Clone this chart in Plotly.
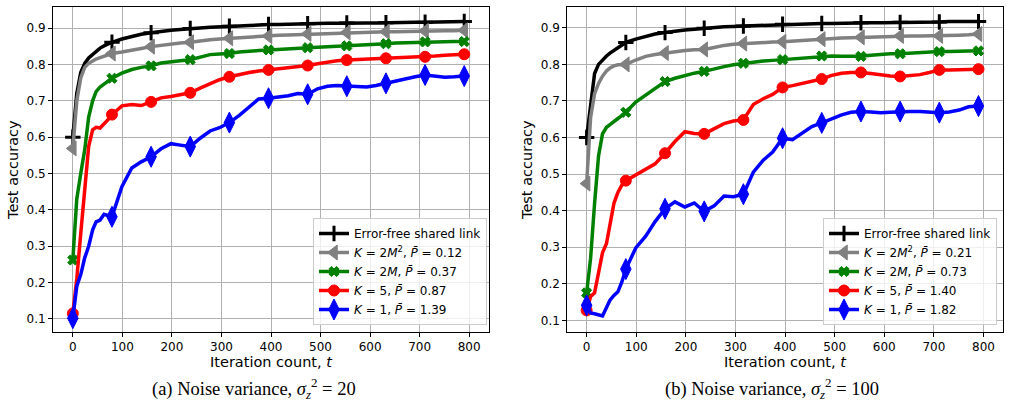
import plotly.graph_objects as go

# Iteration counts at which the curves are sampled
T = [0, 8, 16, 24, 32, 40, 47, 55, 63, 71, 79, 99, 119, 138, 158, 178, 198, 217, 237, 257,
     277, 296, 316, 336, 356, 375, 395, 415, 435, 454, 474, 494, 514, 533, 553, 573, 593,
     612, 632, 652, 672, 691, 711, 731, 751, 770, 790]
# Iterations where markers are drawn
MARK_T = [0, 79, 158, 237, 316, 395, 474, 553, 632, 711, 790]

X_TICKS = [0, 100, 200, 300, 400, 500, 600, 700, 800]
Y_TICKS = [0.1, 0.2, 0.3, 0.4, 0.5, 0.6, 0.7, 0.8, 0.9]

# ---- (a) noise variance 20 ----
A_ERR = [0.60, 0.72, 0.778, 0.803, 0.818, 0.828, 0.837, 0.845, 0.851, 0.856, 0.861,
         0.870, 0.877, 0.883, 0.887, 0.891, 0.894, 0.896, 0.899, 0.900, 0.902, 0.904, 0.905,
         0.906, 0.907, 0.909, 0.910, 0.910, 0.911, 0.911, 0.912, 0.912, 0.913, 0.913, 0.914,
         0.914, 0.914, 0.914, 0.915, 0.915, 0.916, 0.916, 0.916, 0.917, 0.917, 0.917, 0.918]
A_K2M2 = [0.569, 0.70, 0.763, 0.792, 0.803, 0.810, 0.815, 0.819, 0.823, 0.827, 0.830,
          0.834, 0.838, 0.844, 0.849, 0.853, 0.857, 0.859, 0.861, 0.865, 0.868, 0.870, 0.872,
          0.874, 0.875, 0.877, 0.878, 0.880, 0.881, 0.882, 0.884, 0.885, 0.886, 0.887, 0.888,
          0.888, 0.889, 0.889, 0.890, 0.890, 0.891, 0.891, 0.892, 0.892, 0.893, 0.893, 0.894]
A_K2M = [0.262, 0.43, 0.50, 0.565, 0.655, 0.70, 0.725, 0.738, 0.746, 0.754, 0.762,
         0.776, 0.786, 0.792, 0.796, 0.804, 0.808, 0.810, 0.813, 0.820, 0.827, 0.829, 0.830,
         0.834, 0.837, 0.838, 0.840, 0.841, 0.843, 0.844, 0.846, 0.847, 0.849, 0.850, 0.851,
         0.853, 0.855, 0.856, 0.857, 0.859, 0.860, 0.861, 0.862, 0.862, 0.863, 0.863, 0.863]
A_K5 = [0.115, 0.21, 0.335, 0.465, 0.575, 0.62, 0.627, 0.625, 0.635, 0.648, 0.662,
        0.686, 0.690, 0.687, 0.697, 0.708, 0.712, 0.716, 0.722, 0.735, 0.748, 0.758, 0.766,
        0.773, 0.778, 0.782, 0.785, 0.787, 0.790, 0.794, 0.797, 0.802, 0.807, 0.810, 0.812,
        0.813, 0.815, 0.816, 0.817, 0.817, 0.818, 0.820, 0.821, 0.823, 0.825, 0.826, 0.828]
A_K1 = [0.102, 0.19, 0.222, 0.268, 0.30, 0.345, 0.367, 0.372, 0.388, 0.384, 0.381,
        0.464, 0.515, 0.532, 0.546, 0.568, 0.582, 0.578, 0.574, 0.597, 0.617, 0.626, 0.640,
        0.660, 0.683, 0.705, 0.707, 0.710, 0.714, 0.720, 0.718, 0.733, 0.740, 0.742, 0.740,
        0.738, 0.738, 0.742, 0.748, 0.755, 0.762, 0.766, 0.771, 0.767, 0.765, 0.766, 0.768]

# ---- (b) noise variance 100 ----
B_ERR = [0.60, 0.69, 0.775, 0.80, 0.813, 0.823, 0.831, 0.839, 0.846, 0.853, 0.86,
         0.869, 0.877, 0.883, 0.887, 0.891, 0.894, 0.896, 0.899, 0.901, 0.903, 0.904, 0.905,
         0.906, 0.907, 0.909, 0.910, 0.910, 0.911, 0.911, 0.912, 0.912, 0.913, 0.913, 0.914,
         0.914, 0.914, 0.914, 0.915, 0.915, 0.916, 0.916, 0.916, 0.917, 0.917, 0.917, 0.917]
B_K2M2 = [0.474, 0.655, 0.72, 0.748, 0.768, 0.782, 0.79, 0.796, 0.799, 0.80, 0.80,
          0.812, 0.822, 0.827, 0.831, 0.835, 0.838, 0.840, 0.841, 0.846, 0.852, 0.855, 0.857,
          0.859, 0.860, 0.861, 0.862, 0.864, 0.866, 0.868, 0.869, 0.871, 0.872, 0.873, 0.874,
          0.876, 0.877, 0.877, 0.878, 0.878, 0.878, 0.878, 0.878, 0.879, 0.880, 0.881, 0.883]
B_K2M = [0.175, 0.27, 0.42, 0.55, 0.61, 0.628, 0.635, 0.645, 0.652, 0.66, 0.669,
         0.697, 0.716, 0.735, 0.753, 0.762, 0.770, 0.776, 0.781, 0.788, 0.794, 0.799, 0.803,
         0.806, 0.809, 0.811, 0.813, 0.815, 0.817, 0.820, 0.823, 0.823, 0.822, 0.822, 0.822,
         0.825, 0.828, 0.829, 0.829, 0.831, 0.833, 0.834, 0.835, 0.835, 0.836, 0.836, 0.837]
B_K5 = [0.127, 0.165, 0.175, 0.228, 0.285, 0.31, 0.36, 0.42, 0.45, 0.47, 0.482,
        0.498, 0.512, 0.528, 0.557, 0.589, 0.616, 0.611, 0.610, 0.625, 0.638, 0.645, 0.648,
        0.690, 0.706, 0.718, 0.737, 0.742, 0.748, 0.755, 0.760, 0.770, 0.776, 0.778, 0.778,
        0.775, 0.771, 0.768, 0.767, 0.770, 0.772, 0.778, 0.785, 0.785, 0.785, 0.786, 0.787]
B_K1 = [0.141, 0.12, 0.118, 0.114, 0.112, 0.135, 0.155, 0.168, 0.178, 0.205, 0.240,
        0.298, 0.33, 0.37, 0.405, 0.424, 0.41, 0.421, 0.398, 0.413, 0.44, 0.438, 0.445,
        0.505, 0.538, 0.56, 0.598, 0.594, 0.612, 0.630, 0.640, 0.652, 0.662, 0.669, 0.671,
        0.670, 0.668, 0.669, 0.671, 0.671, 0.671, 0.670, 0.668, 0.670, 0.675, 0.684, 0.686]

LABELS_A = ["Error-free shared link",
            "<i>K</i> = 2<i>M</i><sup>2</sup>, <i>P\u0304</i> = 0.12",
            "<i>K</i> = 2<i>M</i>, <i>P\u0304</i> = 0.37",
            "<i>K</i> = 5, <i>P\u0304</i> = 0.87",
            "<i>K</i> = 1, <i>P\u0304</i> = 1.39"]
LABELS_B = ["Error-free shared link",
            "<i>K</i> = 2<i>M</i><sup>2</sup>, <i>P\u0304</i> = 0.21",
            "<i>K</i> = 2<i>M</i>, <i>P\u0304</i> = 0.73",
            "<i>K</i> = 5, <i>P\u0304</i> = 1.40",
            "<i>K</i> = 1, <i>P\u0304</i> = 1.82"]

COLORS = ["#000000", "#808080", "#008000", "#ff0000", "#0000ff"]
SYMBOLS = ["cross-thin", "triangle-left", "x", "circle", "diamond-tall"]
SIZES = [11, 13, 9, 11, 15]
MLW = [3, 1, 1, 1, 1]

W, H = 1010, 407
mark_idx = [T.index(t) for t in MARK_T]

fig = go.Figure()

panels = [
    ("x", "y", "legend", [A_ERR, A_K2M2, A_K2M, A_K5, A_K1], LABELS_A),
    ("x2", "y2", "legend2", [B_ERR, B_K2M2, B_K2M, B_K5, B_K1], LABELS_B),
]
for xa, ya, leg, series, labels in panels:
    for i, vals in enumerate(series):
        fig.add_trace(go.Scatter(
            x=T, y=vals, mode="lines+markers", name=labels[i],
            xaxis=xa, yaxis=ya, legend=leg,
            line=dict(color=COLORS[i], width=3.5),
            marker=dict(symbol=SYMBOLS[i], size=SIZES[i], color=COLORS[i],
                        line=dict(color=COLORS[i], width=MLW[i])),
            selectedpoints=mark_idx,
            selected=dict(marker=dict(opacity=1)),
            unselected=dict(marker=dict(opacity=0)),
        ))

def px_x(p):
    return p / W

def px_y(p):
    return 1 - p / H

FONT = "DejaVu Sans"
axis_common = dict(
    showline=True, mirror=True, linecolor="black", linewidth=1,
    showgrid=True, gridcolor="#b0b0b0", gridwidth=1,
    ticks="outside", ticklen=4, tickcolor="black", tickwidth=1,
    tickfont=dict(family=FONT, size=12, color="black"),
    zeroline=False,
)

fig.update_layout(
    width=W, height=H, autosize=False,
    margin=dict(l=0, r=0, t=0, b=0),
    paper_bgcolor="white", plot_bgcolor="white",
    font=dict(family=FONT, color="black"),
    xaxis=dict(domain=[px_x(53), px_x(489)], range=[-40, 840], tickvals=X_TICKS,
               anchor="y", **axis_common),
    yaxis=dict(domain=[px_y(332), px_y(7)], range=[0.064, 0.958], tickvals=Y_TICKS,
               tickformat=".1f", anchor="x", **axis_common),
    xaxis2=dict(domain=[px_x(567.3), px_x(1003.3)], range=[-39, 840], tickvals=X_TICKS,
                anchor="y2", **axis_common),
    yaxis2=dict(domain=[px_y(332), px_y(7)], range=[0.068, 0.957], tickvals=Y_TICKS,
                tickformat=".1f", anchor="x2", **axis_common),
    legend=dict(x=px_x(487), y=px_y(325), xanchor="right", yanchor="bottom",
                bgcolor="rgba(255,255,255,0.8)", bordercolor="#cccccc", borderwidth=1,
                font=dict(family=FONT, size=12, color="black"), tracegroupgap=0),
    legend2=dict(x=px_x(997), y=px_y(325), xanchor="right", yanchor="bottom",
                 bgcolor="rgba(255,255,255,0.8)", bordercolor="#cccccc", borderwidth=1,
                 font=dict(family=FONT, size=12, color="black"), tracegroupgap=0),
    showlegend=True,
)

annotations = [
    dict(text="Test accuracy", x=px_x(13), y=px_y(170), textangle=-90),
    dict(text="Test accuracy", x=px_x(527), y=px_y(170), textangle=-90),
    dict(text="Iteration count, <i>t</i>", x=px_x(271), y=px_y(362)),
    dict(text="Iteration count, <i>t</i>", x=px_x(785), y=px_y(362)),
]
anns = []
for a in annotations:
    anns.append(dict(xref="paper", yref="paper", showarrow=False, xanchor="center",
                     yanchor="middle", font=dict(family=FONT, size=14.5, color="black"), **a))
for txt, cx in [("(a) Noise variance, <i>σ</i><sub><i>z</i></sub><sup>2</sup> = 20", 254),
                ("(b) Noise variance, <i>σ</i><sub><i>z</i></sub><sup>2</sup> = 100", 772)]:
    anns.append(dict(xref="paper", yref="paper", showarrow=False, xanchor="center",
                     yanchor="middle", x=px_x(cx), y=px_y(388), text=txt,
                     font=dict(family="Liberation Serif", size=18.5, color="black")))
fig.update_layout(annotations=anns)

fig.write_html("out.html")
